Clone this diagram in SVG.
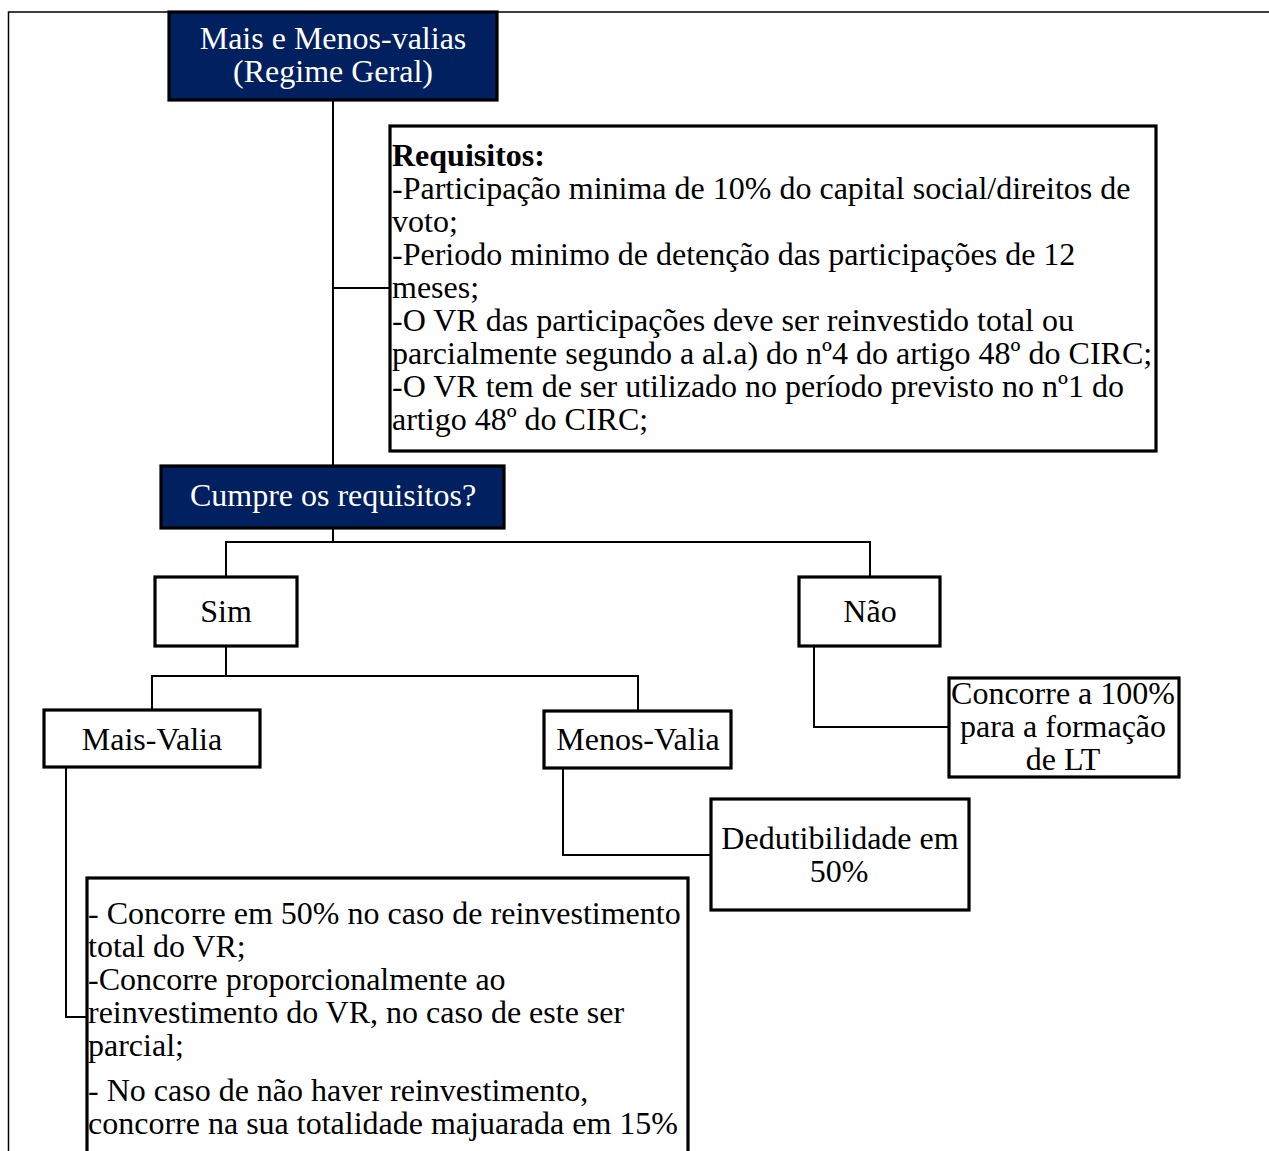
<svg xmlns="http://www.w3.org/2000/svg" width="1269" height="1151" viewBox="0 0 1269 1151">
  <style>
    text { font-family: "Liberation Serif", "Times New Roman", serif; font-size: 32px; fill: #000; }
    .box { fill: #fff; stroke: #000; stroke-width: 3.2; }
    .dark { fill: #002060; stroke: #000; stroke-width: 3.2; }
    .light { fill: #fff; }
    .mid { text-anchor: middle; }
    .conn { fill: none; stroke: #000; stroke-width: 2; }
    .frame { fill: none; stroke: #000; stroke-width: 1.5; }
  </style>

  <!-- page frame -->
  <path class="frame" d="M1269 12 H8.5 V1151"/>

  <!-- connectors -->
  <g id="connectors">
    <path class="conn" d="M333 100 V465"/>
    <path class="conn" d="M333 288 H390"/>
    <path class="conn" d="M333 529 V542 M226 576 V542 H870 V576"/>
    <path class="conn" d="M226 647 V676 M152 709 V676 H638 V710"/>
    <path class="conn" d="M814 647 V727 H948"/>
    <path class="conn" d="M563 769 V855 H711"/>
    <path class="conn" d="M66 768 V1017 H87"/>
  </g>

  <g id="root">
    <rect class="dark" x="169" y="12" width="328" height="88"/>
    <text class="light mid" x="333" y="49">Mais e Menos-valias</text>
    <text class="light mid" x="333" y="82">(Regime Geral)</text>
  </g>

  <g id="requisitos">
    <rect class="box" x="390" y="126" width="766" height="325"/>
    <text x="392" y="166" font-weight="bold">Requisitos:</text>
    <text x="392" y="199">-Participação minima de 10% do capital social/direitos de</text>
    <text x="392" y="232">voto;</text>
    <text x="392" y="265">-Periodo minimo de detenção das participações de 12</text>
    <text x="392" y="298">meses;</text>
    <text x="392" y="331">-O VR das participações deve ser reinvestido total ou</text>
    <text x="392" y="364">parcialmente segundo a al.a) do nº4 do artigo 48º do CIRC;</text>
    <text x="392" y="397">-O VR tem de ser utilizado no período previsto no nº1 do</text>
    <text x="392" y="430">artigo 48º do CIRC;</text>
  </g>

  <g id="cumpre">
    <rect class="dark" x="161" y="466" width="343" height="62"/>
    <text class="light mid" x="333" y="506">Cumpre os requisitos?</text>
  </g>

  <g id="sim">
    <rect class="box" x="155" y="577" width="142" height="69"/>
    <text class="mid" x="226" y="622">Sim</text>
  </g>

  <g id="nao">
    <rect class="box" x="799" y="577" width="141" height="69"/>
    <text class="mid" x="870" y="622">Não</text>
  </g>

  <g id="lt">
    <rect class="box" x="949" y="678" width="230" height="99"/>
    <text class="mid" x="1063" y="704">Concorre a 100%</text>
    <text class="mid" x="1063" y="737">para a formação</text>
    <text class="mid" x="1063" y="770">de LT</text>
  </g>

  <g id="mais-valia">
    <rect class="box" x="44" y="710" width="216" height="57"/>
    <text class="mid" x="152" y="750">Mais-Valia</text>
  </g>

  <g id="menos-valia">
    <rect class="box" x="544" y="711" width="187" height="57"/>
    <text class="mid" x="638" y="750">Menos-Valia</text>
  </g>

  <g id="dedutibilidade">
    <rect class="box" x="711" y="799" width="258" height="111"/>
    <text class="mid" x="840" y="849">Dedutibilidade em</text>
    <text class="mid" x="839" y="882">50%</text>
  </g>

  <g id="mais-valia-regras">
    <rect class="box" x="87" y="878" width="601" height="290"/>
    <text x="88" y="924">- Concorre em 50% no caso de reinvestimento</text>
    <text x="88" y="957">total do VR;</text>
    <text x="88" y="990">-Concorre proporcionalmente ao</text>
    <text x="88" y="1023">reinvestimento do VR, no caso de este ser</text>
    <text x="88" y="1056">parcial;</text>
    <text x="88" y="1101">- No caso de não haver reinvestimento,</text>
    <text x="88" y="1134">concorre na sua totalidade majuarada em 15%</text>
  </g>
</svg>
